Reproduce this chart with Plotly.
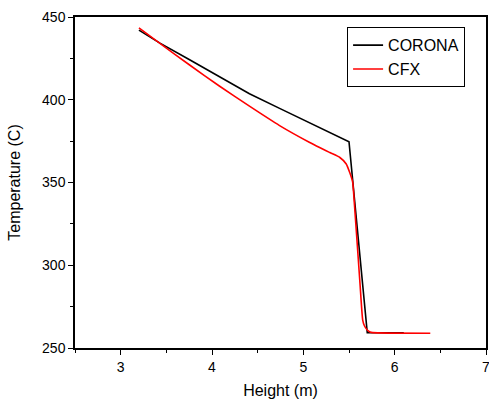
import plotly.graph_objects as go

# CORONA series
corona_h = [3.20, 3.43, 3.75, 4.08, 4.41, 4.74, 5.07, 5.29, 5.50, 5.70, 6.10]
corona_t = [442.1, 434.2, 424.3, 413.9, 403.6, 394.8, 386.1, 380.3, 374.6, 259.2, 259.2]

# CFX series
cfx_h = [3.20, 3.43, 3.755, 4.08, 4.41, 4.74, 5.07, 5.29, 5.40, 5.47, 5.51, 5.54, 5.56,
         5.62, 5.65, 5.67, 5.70, 5.73, 5.76, 6.39]
cfx_t = [443.4, 434.0, 421.0, 408.3, 396.1, 384.4, 374.2, 368.1, 365.1, 361.2, 355.7, 350.3, 336.4,
         289.3, 266.9, 263.3, 260.9, 259.7, 259.3, 258.9]

FONT = "Liberation Sans, Arial, sans-serif"

fig = go.Figure()
fig.add_trace(go.Scatter(x=corona_h, y=corona_t, mode="lines", name="CORONA",
                         line=dict(color="black", width=1.6)))
fig.add_trace(go.Scatter(x=cfx_h, y=cfx_t, mode="lines", name="CFX",
                         line=dict(color="#ff0000", width=1.6, shape="spline", smoothing=0.5)))

axis_common = dict(
    showgrid=False, zeroline=False, automargin=False,
    showline=True, linecolor="black", linewidth=1.5, mirror=True,
    ticks="outside", ticklen=5, tickwidth=1.2, tickcolor="black",
    tickfont=dict(family=FONT, size=14, color="black"),
    ticklabeloverflow="allow",
)

fig.update_xaxes(range=[2.5, 7], tick0=0, dtick=1,
                 minor=dict(ticks="outside", ticklen=3, tickwidth=1.2, tickcolor="black", dtick=0.5, tick0=0),
                 title=dict(text="Height (m)", font=dict(family=FONT, size=16, color="black"), standoff=12),
                 **axis_common)
fig.update_yaxes(range=[250, 450], tick0=0, dtick=50,
                 minor=dict(ticks="outside", ticklen=3, tickwidth=1.2, tickcolor="black", dtick=25, tick0=0),
                 title=dict(text="Temperature (C)", font=dict(family=FONT, size=16, color="black"), standoff=17),
                 **axis_common)

fig.update_layout(
    width=489, height=399,
    margin=dict(l=75, r=3, t=17, b=51),
    paper_bgcolor="white", plot_bgcolor="white",
    showlegend=True,
    legend=dict(x=0.662, y=0.969, xanchor="left", yanchor="top",
                bordercolor="black", borderwidth=1, bgcolor="white",
                font=dict(family=FONT, size=16, color="black"),
                tracegroupgap=0, itemwidth=30, entrywidth=80),
    font=dict(family=FONT),
)

# remove the page's default 8px body margin so the figure sits at the window's corner
fig.write_html("out.html",
               config={"displayModeBar": False},
               post_script="document.body.style.margin='0';document.body.style.overflow='hidden';")
